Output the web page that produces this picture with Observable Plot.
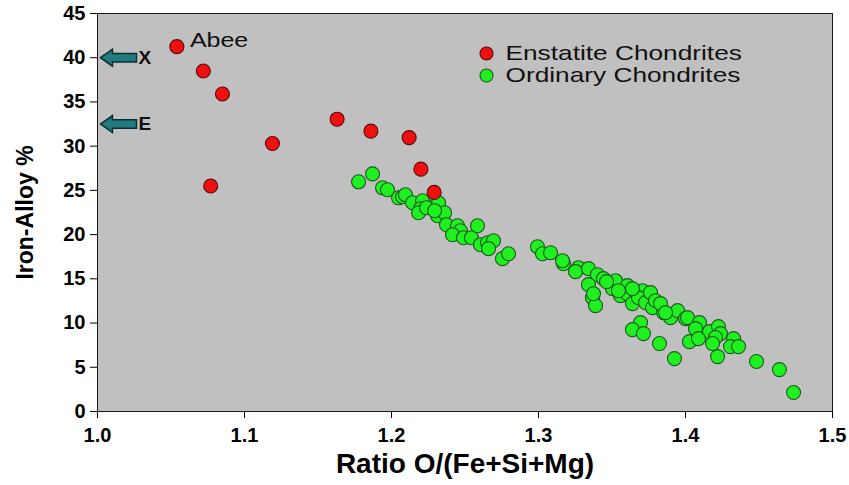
<!DOCTYPE html>
<html>
<head>
<meta charset="utf-8">
<script src="https://cdn.jsdelivr.net/npm/d3@7"></script>
<script src="https://cdn.jsdelivr.net/npm/@observablehq/plot@0.6"></script>
<style>
  html, body { margin: 0; padding: 0; background: #ffffff; }
  #chart { width: 849px; height: 485px; }
</style>
</head>
<body>
<div id="chart"></div>
<script>
// ---- Data ----
const enstatiteX = [1.054, 1.072, 1.085, 1.077, 1.119, 1.163, 1.186, 1.212, 1.220, 1.229];
const enstatiteY = [41.25, 38.5, 35.9, 25.5, 30.3, 33.05, 31.7, 30.97, 27.4, 24.77];

const ordinaryX = [1.1776, 1.1871, 1.1939, 1.1973, 1.2048, 1.2075, 1.2095, 1.2143, 1.2211, 1.2197,
  1.2184, 1.2279, 1.2320, 1.2313, 1.2361, 1.2374, 1.2449, 1.2469, 1.2415, 1.2490,
  1.2544, 1.2585, 1.2605, 1.2653, 1.2694, 1.2660, 1.2755, 1.2796, 1.2993, 1.3027,
  1.3082, 1.3170, 1.3163, 1.3272, 1.3252, 1.3340, 1.3401, 1.3442, 1.3340, 1.3367,
  1.3388, 1.3374, 1.3503, 1.3524, 1.3558, 1.3605, 1.3605, 1.3639, 1.3707, 1.3680,
  1.3728, 1.3776, 1.3850, 1.3898, 1.3946, 1.3694, 1.3639, 1.3714, 1.3823, 1.4000,
  1.4014, 1.4095, 1.4068, 1.4163, 1.4224, 1.4238, 1.4204, 1.4184, 1.4027, 1.4088,
  1.4327, 1.4306, 1.4361, 1.3925, 1.4218, 1.4483, 1.4639, 1.4735, 1.3463, 1.3544,
  1.3639, 1.3762, 1.3796, 1.3830, 1.2238, 1.2293, 1.3864];
const ordinaryY = [25.97, 26.87, 25.29, 25.07, 24.16, 24.28, 24.50, 23.60, 23.83, 22.92,
  22.47, 23.15, 23.60, 22.13, 22.47, 21.12, 21.00, 20.44, 19.99, 19.65,
  19.65, 21.00, 18.86, 19.08, 19.31, 18.41, 17.28, 17.84, 18.63, 17.84,
  17.95, 16.71, 17.05, 16.26, 15.81, 16.15, 15.47, 15.02, 14.34, 12.87,
  11.97, 13.32, 13.89, 14.79, 13.10, 14.23, 13.32, 12.20, 13.66, 12.87,
  12.31, 11.74, 11.18, 10.61, 11.40, 10.05, 9.26, 8.81, 7.68, 10.50,
  10.61, 10.05, 9.37, 9.03, 9.60, 8.81, 8.36, 7.68, 7.90, 8.24,
  8.24, 7.34, 7.34, 5.98, 6.21, 5.65, 4.74, 2.15, 14.68, 13.66,
  13.89, 13.44, 12.53, 12.20, 23.04, 22.70, 11.18];

const seriesNames = ["Enstatite Chondrites", "Ordinary Chondrites"];
const annotationLabel = "Abee";
const markerY = [40, 32.5];
const markerLabels = ["X", "E"];
const xTicks = [1.0, 1.1, 1.2, 1.3, 1.4, 1.5];
const yTicks = [0, 5, 10, 15, 20, 25, 30, 35, 40, 45];
const xLabel = "Ratio O/(Fe+Si+Mg)";
const yLabel = "Iron-Alloy %";

// ---- Tables ----
const enstatite = enstatiteX.map((x, i) => ({x, y: enstatiteY[i]}));
const ordinary = ordinaryX.map((x, i) => ({x, y: ordinaryY[i]}));
const markers = markerY.map((y, i) => ({x: 1.0, y, label: markerLabels[i]}));
const abee = [enstatite[0]];

// block arrow symbol pointing left, tip near origin
const blockArrow = {
  draw(context) {
    context.moveTo(3, 0);
    context.lineTo(15, -8.5);
    context.lineTo(15, -4.3);
    context.lineTo(39, -4.3);
    context.lineTo(39, 4.3);
    context.lineTo(15, 4.3);
    context.lineTo(15, 8.5);
    context.closePath();
  }
};

const FONT = "'Liberation Sans', Arial, Helvetica, sans-serif";

const chart = Plot.plot({
  width: 849,
  height: 485,
  marginLeft: 97,
  marginRight: 17,
  marginTop: 13,
  marginBottom: 74,
  style: {fontFamily: FONT, background: "#ffffff", color: "#000"},
  x: {domain: [1.0, 1.5]},
  y: {domain: [0, 45]},
  marks: [
    Plot.frame({fill: "#c0c0c0", stroke: "#1a1a1a", strokeWidth: 1}),
    Plot.axisX({ticks: xTicks, tickFormat: d => d.toFixed(1), tickSize: 7, tickPadding: 9,
      label: null, fontSize: 20, fontWeight: "bold", color: "#000"}),
    Plot.axisY({ticks: yTicks, tickSize: 7, tickPadding: 5,
      label: null, fontSize: 20, fontWeight: "bold", color: "#000"}),
    Plot.text([xLabel], {frameAnchor: "bottom", dy: 53, lineAnchor: "middle", textAnchor: "middle",
      fontSize: 28, fontWeight: "bold", fill: "#000"}),
    Plot.text([yLabel], {frameAnchor: "left", dx: -72, rotate: -90, lineAnchor: "middle", textAnchor: "middle",
      fontSize: 23, fontWeight: "bold", fill: "#000"}),
    // arrows X and E
    Plot.dot(markers, {x: "x", y: "y", symbol: blockArrow, fill: "#217a7d", stroke: "#0b2f33", strokeWidth: 1.5, r: 10}),
    Plot.text(markers, {x: "x", y: "y", text: "label", dx: 41, textAnchor: "start", lineAnchor: "middle",
      fontSize: 19, fontWeight: "bold", fill: "#111"}),
    // data
    Plot.dot(ordinary, {x: "x", y: "y", r: 7, fill: "#1ff01f", stroke: "#1d5a1d", strokeWidth: 1.1}),
    Plot.dot(enstatite, {x: "x", y: "y", r: 7, fill: "#f01010", stroke: "#5a0a0a", strokeWidth: 1.1}),
    Plot.text(abee, {x: "x", y: "y", text: () => annotationLabel, dx: 13, dy: -6, textAnchor: "start",
      lineAnchor: "middle", fontSize: 20, fill: "#111", className: "wide-text"}),
    // legend
    Plot.dot([seriesNames[0]], {frameAnchor: "top-left", dx: 389, dy: 40, r: 6.5, fill: "#f01010", stroke: "#5a0a0a", strokeWidth: 1.1}),
    Plot.dot([seriesNames[1]], {frameAnchor: "top-left", dx: 389, dy: 62, r: 6.5, fill: "#1ff01f", stroke: "#1d5a1d", strokeWidth: 1.1}),
    Plot.text([seriesNames[0]], {frameAnchor: "top-left", dx: 408, dy: 40, textAnchor: "start", lineAnchor: "middle",
      fontSize: 21, fill: "#111", className: "wide-text"}),
    Plot.text([seriesNames[1]], {frameAnchor: "top-left", dx: 408, dy: 62, textAnchor: "start", lineAnchor: "middle",
      fontSize: 21, fill: "#111", className: "wide-text"})
  ]
});

document.getElementById("chart").appendChild(chart);

// the reference's horizontal texts are set wider than the font's natural width
d3.select(chart).selectAll(".wide-text text").each(function () {
  const len = this.getComputedTextLength();
  if (len > 0) {
    this.setAttribute("textLength", (len * 1.25).toFixed(1));
    this.setAttribute("lengthAdjust", "spacingAndGlyphs");
  }
});
</script>
</body>
</html>
